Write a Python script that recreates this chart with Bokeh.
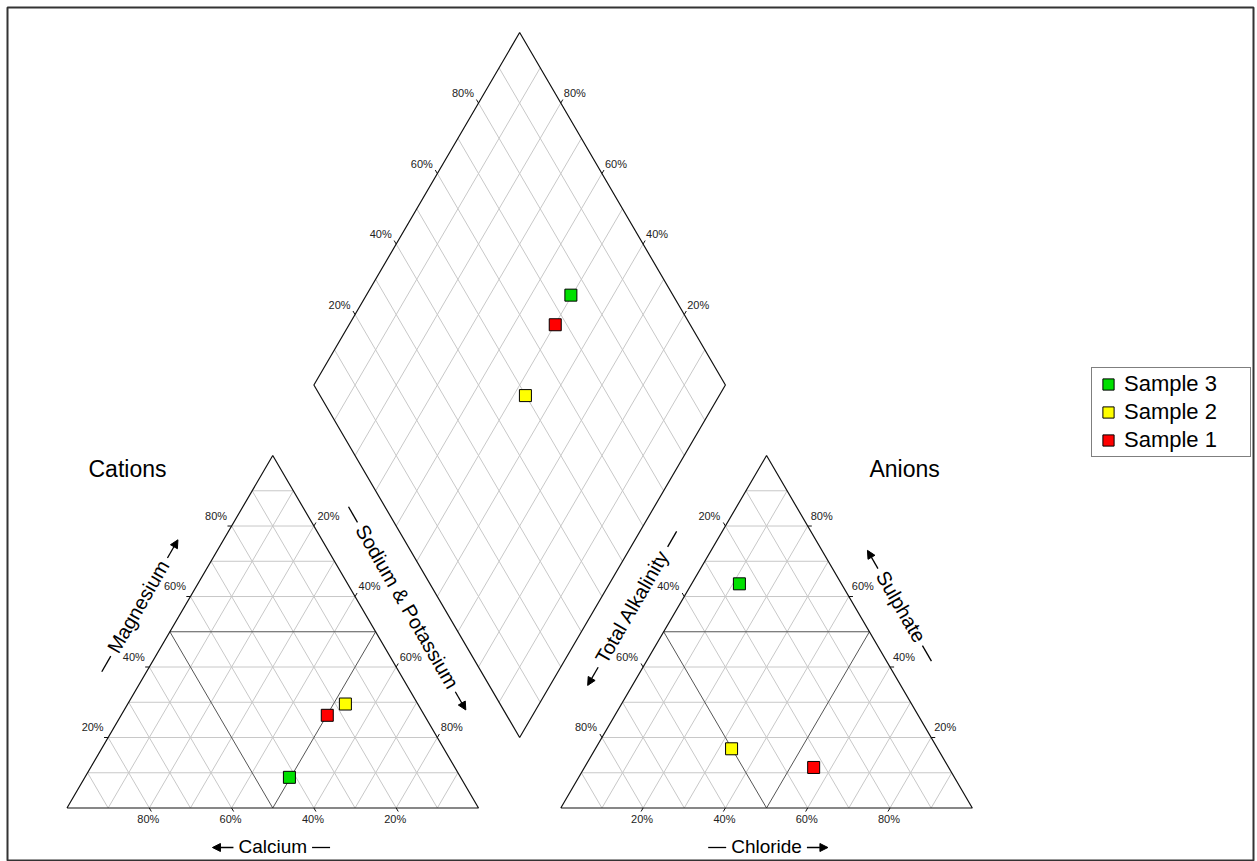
import math
from bokeh.plotting import figure
from bokeh.models import Range1d, Legend, LegendItem, Arrow, NormalHead, ColumnDataSource
from bokeh.core.properties import value
from bokeh.embed import file_html
from bokeh.resources import INLINE

# ---------------- data ----------------
samples = ["Sample 1", "Sample 2", "Sample 3"]
colors = ["#ff0000", "#ffff00", "#00e000"]
# cations (% meq)
calcium = [23.6, 17.6, 41.6]
magnesium = [26.3, 29.5, 8.7]
sodium_potassium = [50.1, 52.9, 49.7]
# anions (% meq)
alkalinity = [32.8, 50.1, 24.8]
sulphate = [11.5, 16.8, 63.6]
chloride = [55.7, 33.1, 11.6]

grid_levels = [10, 20, 30, 40, 50, 60, 70, 80, 90]
tick_levels = [20, 40, 60, 80]
legend_order = ["Sample 3", "Sample 2", "Sample 1"]

# ---------------- geometry ----------------
S3 = math.sqrt(3) / 2
GAP = 20.0
AN_X0 = 100 + GAP
B_X, B_Y = 100 + GAP / 2, GAP * S3
KX, KY = 4.115, 4.07          # px per unit
OX, OY = 66.5, 807.5          # px of cation left vertex
FONT = value("Liberation Sans")

# Arial / Liberation Sans advance widths (per 1000 em) for label text
ADV = {" ": 278, "&": 667, "A": 667, "C": 722, "M": 833, "P": 667, "S": 667,
       "T": 611, "a": 556, "c": 500, "d": 556, "e": 556, "g": 556, "h": 556,
       "i": 222, "k": 500, "l": 222, "m": 833, "n": 556, "o": 556, "p": 556,
       "r": 333, "s": 500, "t": 278, "u": 556, "y": 500}


def text_w(t, size):
    return sum(ADV.get(c, 556) for c in t) * size / 1000.0


def cat_xy(mg, na):
    return na + mg / 2.0, mg * S3


def an_xy(so4, cl):
    return AN_X0 + cl + so4 / 2.0, so4 * S3


def dia_xy(cm, sc):
    return B_X + (sc - cm) / 2.0, B_Y + (cm + sc) * S3


def px(dx, dy_up):
    return dx / KX, dy_up / KY


p = figure(width=1257, height=861, x_axis_type=None, y_axis_type=None,
           x_range=Range1d((7 - OX) / KX, (1253 - OX) / KX),
           y_range=Range1d((OY - 861) / KY, (OY - 7) / KY),
           min_border_left=7, min_border_right=4, min_border_top=7,
           min_border_bottom=0, toolbar_location=None, output_backend="svg",
           outline_line_color="#333333", outline_line_width=2,
           background_fill_color="white", border_fill_color="white")

light_xs, light_ys, dark_xs, dark_ys = [], [], [], []


def add_line(a, b, dark):
    (x0, y0), (x1, y1) = a, b
    if dark:
        dark_xs.append([x0, x1]); dark_ys.append([y0, y1])
    else:
        light_xs.append([x0, x1]); light_ys.append([y0, y1])


for k in grid_levels:
    d = (k == 50)
    add_line(cat_xy(k, 0), cat_xy(k, 100 - k), d)              # Mg = k
    add_line(cat_xy(100 - k, 0), cat_xy(0, 100 - k), d)        # Ca = k
    add_line(cat_xy(100 - k, k), cat_xy(0, k), d)              # Na = k
    add_line(an_xy(k, 0), an_xy(k, 100 - k), d)                # SO4 = k
    add_line(an_xy(100 - k, 0), an_xy(0, 100 - k), d)          # Alk = k
    add_line(an_xy(100 - k, k), an_xy(0, k), d)                # Cl = k
    add_line(dia_xy(k, 0), dia_xy(k, 100), False)
    add_line(dia_xy(0, k), dia_xy(100, k), False)

p.multi_line(light_xs, light_ys, line_color="#c8c8c8", line_width=1)
p.multi_line(dark_xs, dark_ys, line_color="#555555", line_width=1)

tri_c = [cat_xy(0, 0), cat_xy(0, 100), cat_xy(100, 0), cat_xy(0, 0)]
tri_a = [an_xy(0, 0), an_xy(0, 100), an_xy(100, 0), an_xy(0, 0)]
dia = [dia_xy(0, 0), dia_xy(100, 0), dia_xy(100, 100), dia_xy(0, 100), dia_xy(0, 0)]
p.multi_line([[q[0] for q in s] for s in (tri_c, tri_a, dia)],
             [[q[1] for q in s] for s in (tri_c, tri_a, dia)],
             line_color="#111111", line_width=1.2)

# ticks and tick labels
tk_xs, tk_ys = [], []
lab = {"right": ([], [], []), "left": ([], [], []), "center": ([], [], [])}


def tick(a, b, text, align, off):
    tk_xs.append([a[0], b[0]]); tk_ys.append([a[1], b[1]])
    ox, oy = px(*off)
    L = lab[align]
    L[0].append(a[0] + ox); L[1].append(a[1] + oy); L[2].append(text)


for k in tick_levels:
    t = f"{k}%"
    tick(cat_xy(k, 0), cat_xy(k, -1), t, "right", (-4.5, 10.5))
    tick(cat_xy(100 - k, k), cat_xy(101 - k, k), t, "left", (3.5, 10.5))
    tick(cat_xy(0, 100 - k), cat_xy(-1, 101 - k), t, "center", (-1, -11))
    tick(an_xy(100 - k, 0), an_xy(101 - k, -1), t, "right", (-5, 10.5))
    tick(an_xy(k, 100 - k), an_xy(k, 101 - k), t, "left", (3, 10.5))
    tick(an_xy(0, k), an_xy(-1, k), t, "center", (-1, -11))
    tick(dia_xy(100, k), dia_xy(101, k), t, "right", (-4.5, 10))
    tick(dia_xy(k, 100), dia_xy(k, 101), t, "left", (3, 10))

p.multi_line(tk_xs, tk_ys, line_color="#111111", line_width=1)
for align, (xs, ys, ts) in lab.items():
    p.text(xs, ys, text=ts, text_font=FONT, text_font_size="11px",
           text_align=align, text_baseline="middle", text_color="#222222")

# titles
p.text(*px(88 - OX, OY - 468), text=["Cations"], text_font=FONT,
       text_font_size="23px", text_align="left", text_baseline="middle",
       text_color="black")
ax_r = an_xy(0, 100)[0]
p.text([ax_r + (940 - 972.5) / KX], [(OY - 468) / KY], text=["Anions"],
       text_font=FONT, text_font_size="23px", text_align="right",
       text_baseline="middle", text_color="black")

# axis names with separate dash and arrow
arr = dict(x_start=[], y_start=[], x_end=[], y_end=[])
dash_xs, dash_ys = [], []


def axis_name(cx, cy, text, ang, size, arrow_at_end):
    p.text([cx], [cy], text=[text], angle=ang, text_font=FONT,
           text_font_size=f"{size}px", text_align="center",
           text_baseline="middle", text_color="black")
    h = text_w(text, size) / 2.0
    ux, uy = math.cos(ang), math.sin(ang)
    # small perpendicular shift so the marks sit at mid x-height
    nx, ny = math.sin(ang), -math.cos(ang)
    sh = 1.0

    def at(d):
        ox, oy = px(d * ux + sh * nx, d * uy + sh * ny)
        return cx + ox, cy + oy

    s_arrow = 1 if arrow_at_end else -1
    a0, a1 = at(s_arrow * (h + 5)), at(s_arrow * (h + 26))
    arr["x_start"].append(a0[0]); arr["y_start"].append(a0[1])
    arr["x_end"].append(a1[0]); arr["y_end"].append(a1[1])
    d0, d1 = at(-s_arrow * (h + 5)), at(-s_arrow * (h + 23))
    dash_xs.append([d0[0], d1[0]]); dash_ys.append([d0[1], d1[1]])


n_left, a_left = (-S3, 0.5), (0.5, S3)
n_right, a_right = (S3, 0.5), (-0.5, S3)


def edge_center(p0, p1, n, a):
    mx, my = (p0[0] + p1[0]) / 2, (p0[1] + p1[1]) / 2
    ox, oy = px(40 * n[0] + 6 * a[0], 40 * n[1] + 6 * a[1])
    return mx + ox, my + oy


axis_name(*edge_center(cat_xy(0, 0), cat_xy(100, 0), n_left, a_left),
          "Magnesium", math.pi / 3, 20, True)
axis_name(*edge_center(cat_xy(0, 100), cat_xy(100, 0), n_right, a_right),
          "Sodium & Potassium", -math.pi / 3, 20, True)
axis_name(*edge_center(an_xy(0, 0), an_xy(100, 0), n_left, a_left),
          "Total Alkalinity", math.pi / 3, 20, False)
axis_name(*edge_center(an_xy(0, 100), an_xy(100, 0), n_right, a_right),
          "Sulphate", -math.pi / 3, 20, False)

by = -38.5 / KY
axis_name(cat_xy(0, 50)[0], by, "Calcium", 0.0, 19, False)
axis_name(an_xy(0, 50)[0], by, "Chloride", 0.0, 19, True)

p.multi_line(dash_xs, dash_ys, line_color="black", line_width=1.3)
p.add_layout(Arrow(end=NormalHead(size=8, fill_color="black", line_color="black",
                                  line_width=1),
                   source=ColumnDataSource(arr), x_start="x_start", y_start="y_start",
                   x_end="x_end", y_end="y_end", line_color="black", line_width=1.3))

# sample points
renderers = {}
for i, name in enumerate(samples):
    cx, cy = cat_xy(magnesium[i], sodium_potassium[i])
    axp, ayp = an_xy(sulphate[i], chloride[i])
    dx, dy = dia_xy(calcium[i] + magnesium[i], sulphate[i] + chloride[i])
    renderers[name] = p.scatter([cx, axp, dx], [cy, ayp, dy], marker="square",
                                size=12, fill_color=colors[i],
                                line_color="black", line_width=1)

legend = Legend(items=[LegendItem(label=n, renderers=[renderers[n]]) for n in legend_order],
                location=(1084, 404), orientation="vertical",
                glyph_width=28, glyph_height=28, label_height=28,
                label_width=124, label_standoff=2, padding=2, spacing=0,
                margin=0, label_text_font="Liberation Sans",
                label_text_font_size="22px", label_text_color="black",
                border_line_color="black", border_line_width=1,
                background_fill_color="white", background_fill_alpha=1)
p.add_layout(legend)

open("out.html", "w").write(file_html(p, INLINE))
